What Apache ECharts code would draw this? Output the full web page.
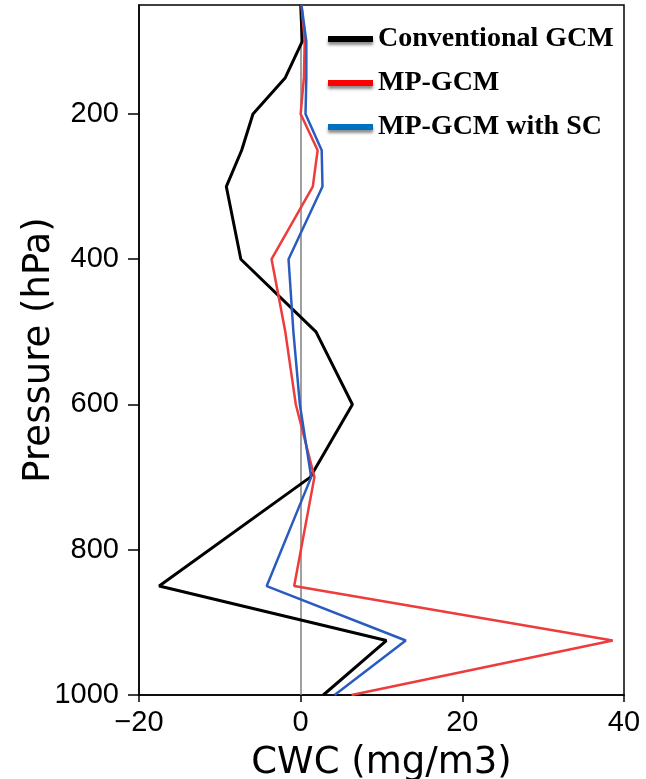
<!DOCTYPE html>
<html>
<head>
<meta charset="utf-8">
<script src="https://cdn.jsdelivr.net/npm/echarts@6/dist/echarts.min.js"></script>
<style>
  html, body { margin: 0; padding: 0; background: #fff; }
  #chart { width: 646px; height: 779px; }
</style>
</head>
<body>
<div id="chart"></div>
<script>
// 气压层 (hPa)
const pressure = [50, 100, 150, 200, 250, 300, 400, 500, 600, 700, 850, 925, 1000]
// 各方案 CWC (mg/m3)
const conventional = [0.0, 0.2, -1.9, -5.9, -7.3, -9.2, -7.4, 1.9, 6.4, 1.2, -17.5, 10.6, 2.8]
const mpGcm = [0.1, 0.5, 0.4, 0.0, 2.1, 1.5, -3.6, -1.9, -0.6, 1.7, -0.8, 38.6, 6.3]
const mpGcmSC = [0.1, 0.7, 0.7, 0.6, 2.6, 2.7, -1.5, -0.9, -0.1, 1.3, -4.2, 13.0, 4.2]
const pressureTicks = [200, 400, 600, 800, 1000]

const seriesNames = ['Conventional GCM', 'MP-GCM', 'MP-GCM with SC']

function toPoints(vals) {
  return vals.map((v, i) => [v, pressure[i]])
}

window.addEventListener('load', () => {
  let myChart = echarts.init(document.getElementById('chart'))
  let option = {
    animation: false,
    grid: {
      left: 139,
      right: 22,
      top: 5,
      bottom: 84,
      outerBoundsMode: 'none',
      containLabel: false,
      show: true,
      borderColor: '#000',
      borderWidth: 1.5,
    },
    legend: {
      orient: 'vertical',
      left: 323,
      top: 20,
      itemGap: 16,
      itemWidth: 45,
      itemHeight: 6,
      icon: 'rect',
      itemStyle: {
        shadowBlur: 3,
        shadowColor: 'rgba(0,0,0,0.45)',
        shadowOffsetY: 3,
      },
      textStyle: {
        fontFamily: 'Liberation Serif',
        fontWeight: 'bold',
        fontSize: 28,
        color: '#000',
        padding: [0, 0, 0, 0],
      },
      data: [
        { name: seriesNames[0], itemStyle: { color: '#000' } },
        { name: seriesNames[1], itemStyle: { color: '#ff0000' } },
        { name: seriesNames[2], itemStyle: { color: '#0070c0' } },
      ],
    },
    xAxis: {
      type: 'value',
      min: -20,
      max: 40,
      interval: 20,
      name: 'CWC (mg/m3)',
      nameLocation: 'middle',
      nameGap: 50,
      nameTextStyle: {
        fontFamily: 'DejaVu Sans',
        fontSize: 37,
        color: '#000',
      },
      axisLine: { onZero: false, lineStyle: { color: '#000', width: 1.5 } },
      axisTick: { length: 7, lineStyle: { color: '#000', width: 1.5 } },
      axisLabel: {
        margin: 13,
        fontFamily: 'Liberation Sans',
        fontSize: 29,
        color: '#000',
        formatter: (v) => (v < 0 ? '\u2212' + Math.abs(v) : String(v)),
      },
      splitLine: { show: false },
    },
    yAxis: {
      type: 'value',
      inverse: true,
      min: 50,
      max: 1000,
      name: 'Pressure (hPa)',
      nameLocation: 'middle',
      nameGap: 81,
      nameMoveOverlap: false,
      nameRotate: 90,
      nameTextStyle: {
        fontFamily: 'DejaVu Sans',
        fontSize: 37,
        color: '#000',
      },
      axisLine: { onZero: false, lineStyle: { color: '#000', width: 1.5 } },
      axisTick: {
        length: 11,
        customValues: pressureTicks,
        lineStyle: { color: '#000', width: 1.5 },
      },
      axisLabel: {
        margin: 20,
        customValues: pressureTicks,
        fontFamily: 'Liberation Sans',
        fontSize: 29,
        color: '#000',
        formatter: (v) => String(v),
      },
      splitLine: { show: false },
    },
    series: [
      {
        name: seriesNames[0],
        type: 'line',
        data: toPoints(conventional),
        symbol: 'none',
        z: 3,
        lineStyle: { color: '#000', width: 3 },
        itemStyle: { color: '#000' },
        markLine: {
          silent: true,
          symbol: 'none',
          label: { show: false },
          lineStyle: { color: '#808080', width: 1.5, type: 'solid' },
          data: [{ xAxis: 0 }],
          z: 1,
        },
      },
      {
        name: seriesNames[1],
        type: 'line',
        data: toPoints(mpGcm),
        symbol: 'none',
        z: 4,
        lineStyle: { color: '#ee3b3b', width: 2.5 },
        itemStyle: { color: '#ee3b3b' },
      },
      {
        name: seriesNames[2],
        type: 'line',
        data: toPoints(mpGcmSC),
        symbol: 'none',
        z: 5,
        lineStyle: { color: '#2a5cbf', width: 2.5 },
        itemStyle: { color: '#2a5cbf' },
      },
    ],
  }
  myChart.setOption(option)
})
</script>
</body>
</html>
